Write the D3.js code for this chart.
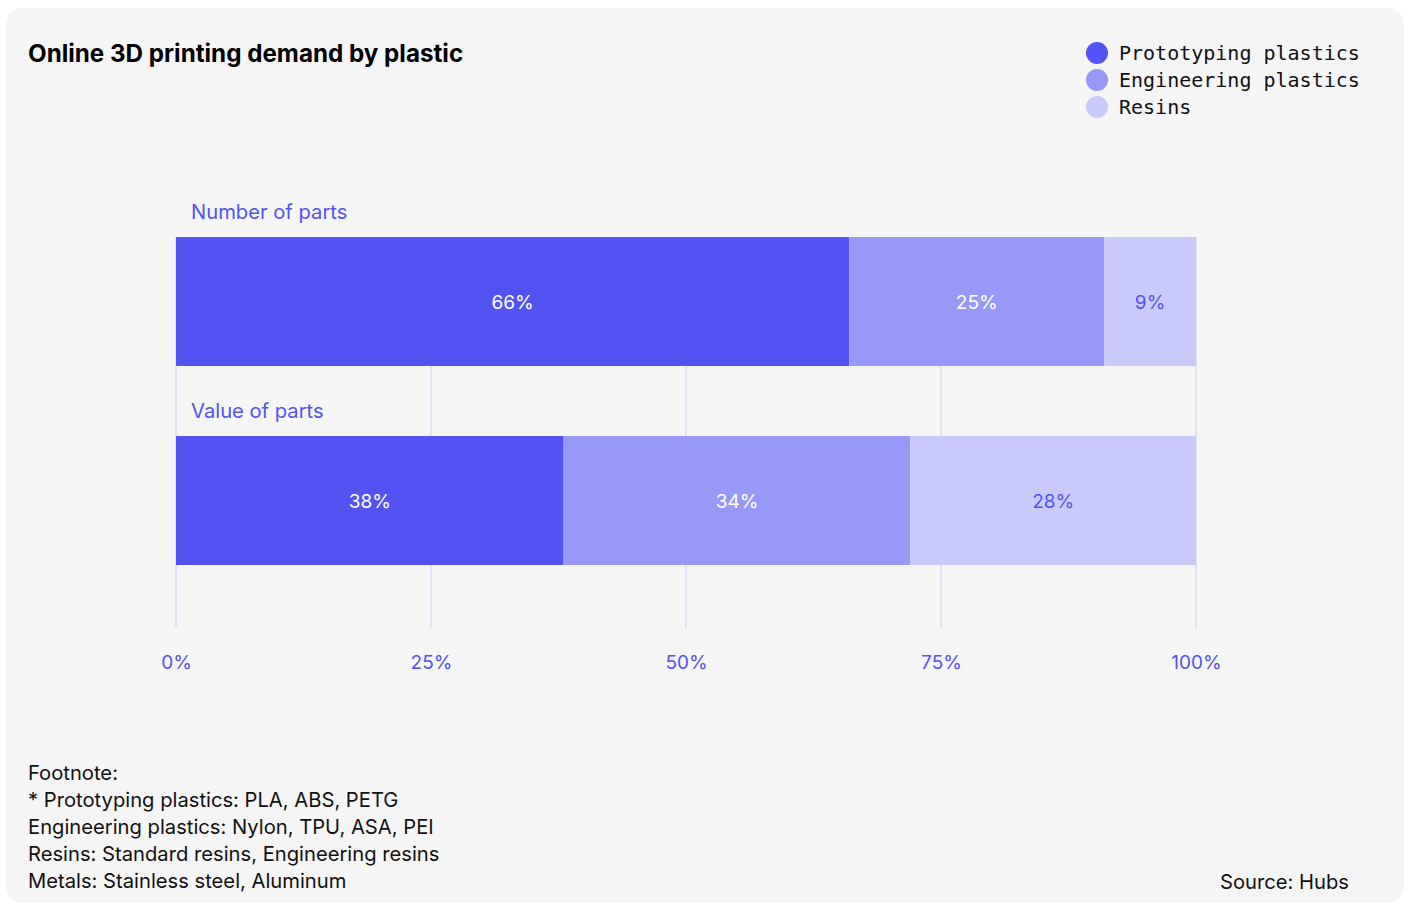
<!DOCTYPE html>
<html><head><meta charset="utf-8">
<script src="https://cdn.jsdelivr.net/npm/d3@7"></script>
<style>
html,body{margin:0;padding:0;background:#fff;}
svg{display:block;}
</style></head><body>
<svg id="chart" width="1410" height="905"></svg>
<script>
const title = "Online 3D printing demand by plastic";
const categories = ["Number of parts", "Value of parts"];
const seriesNames = ["Prototyping plastics", "Engineering plastics", "Resins"];
const prototyping = [66, 38];
const engineering = [25, 34];
const resins = [9, 28];
const tickValues = [0, 25, 50, 75, 100];
const tickLabels = ["0%", "25%", "50%", "75%", "100%"];
const footnoteLines = ["Footnote:", "* Prototyping plastics: PLA, ABS, PETG", "Engineering plastics: Nylon, TPU, ASA, PEI", "Resins: Standard resins, Engineering resins", "Metals: Stainless steel, Aluminum"];
const source = "Source: Hubs";

const colors = ["#5353f2", "#9898f6", "#cacafa"];
const labelColors = ["#ffffff", "#ffffff", "#5353f2"];
const font = "Inter, 'Open Sans', sans-serif";

const svg = d3.select("#chart");
svg.append("rect").attr("x", 6).attr("y", 8).attr("width", 1398).attr("height", 895).attr("rx", 16).attr("fill", "#f5f5f5");

svg.append("text").attr("x", 28).attr("y", 62).text(title)
  .attr("font-family", font).attr("font-weight", 700).attr("font-size", 24.2).attr("fill", "#000");

// legend
const leg = svg.append("g");
seriesNames.forEach((s, i) => {
  const y = 53 + i * 27;
  leg.append("circle").attr("cx", 1097).attr("cy", y).attr("r", 11).attr("fill", colors[i]);
  leg.append("text").attr("x", 1119).attr("y", y + 7).text(s)
    .attr("font-family", "'DejaVu Sans Mono', monospace").attr("font-size", 20).attr("fill", "#111");
});

const x = d3.scaleLinear().domain([0, 100]).range([176, 1196]);
const barTop = d => 237 + categories.indexOf(d) * 199;
const barH = 129;

// gridlines
svg.append("g").selectAll("line").data(tickValues).join("line")
  .attr("x1", d => x(d)).attr("x2", d => x(d)).attr("y1", 237).attr("y2", 628)
  .attr("stroke", "#e2e2f7").attr("stroke-width", 2);

const stackData = categories.map((c, i) => ({cat: c, p: prototyping[i], e: engineering[i], r: resins[i]}));
const stack = d3.stack().keys(["p", "e", "r"])(stackData);

stack.forEach((layer, si) => {
  const g = svg.append("g");
  g.selectAll("rect").data(layer).join("rect")
    .attr("x", d => x(d[0])).attr("width", d => x(d[1]) - x(d[0]))
    .attr("y", d => barTop(d.data.cat)).attr("height", barH)
    .attr("fill", colors[si]);
  g.selectAll("text").data(layer).join("text")
    .attr("x", d => (x(d[0]) + x(d[1])) / 2)
    .attr("y", d => barTop(d.data.cat) + barH / 2 + 7)
    .attr("text-anchor", "middle")
    .attr("font-family", font).attr("font-size", 19).attr("fill", labelColors[si])
    .text(d => Math.round(d[1] - d[0]) + "%");
});

// category labels
svg.append("g").selectAll("text").data(categories).join("text")
  .attr("x", 191).attr("y", d => barTop(d) - 18).text(d => d)
  .attr("font-family", font).attr("font-size", 20.2).attr("fill", "#5353f2");

// axis
const axis = d3.axisBottom(x).tickValues(tickValues).tickFormat((d, i) => tickLabels[i]).tickSize(0).tickPadding(0);
const ag = svg.append("g").attr("transform", "translate(0,661)").call(axis);
ag.select(".domain").remove();
ag.selectAll("text").attr("font-family", font).attr("font-size", 19).attr("fill", "#5353f2").attr("dy", "0.71em");
ag.selectAll("text").attr("y", -6);

// footnote
svg.append("g").selectAll("text").data(footnoteLines).join("text")
  .attr("x", 28).attr("y", (d, i) => 780 + i * 27).text(d => d)
  .attr("font-family", font).attr("font-size", 20.2).attr("fill", "#111");

svg.append("text").attr("x", 1349).attr("y", 889).attr("text-anchor", "end").text(source)
  .attr("font-family", font).attr("font-size", 20.2).attr("fill", "#111");
</script></body></html>
